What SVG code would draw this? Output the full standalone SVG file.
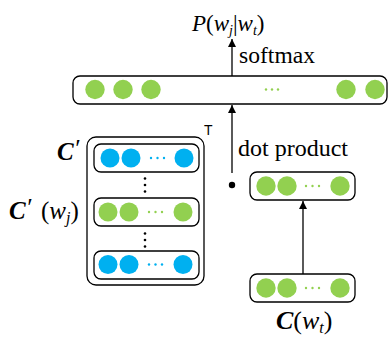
<svg xmlns="http://www.w3.org/2000/svg" width="388" height="339" viewBox="0 0 388 339">
<defs>
<style>
.box{fill:#fff;stroke:#000;stroke-width:1.3}
.g{fill:#92D050}
.b{fill:#00B0F0}
.ln{stroke:#000;stroke-width:1.3;fill:none}
.t{fill:#000}
.bi{font-weight:bold;font-style:italic}
.it{font-style:italic}
</style>
<marker id="ah" viewBox="0 0 10 10" refX="10" refY="5" markerWidth="8" markerHeight="8" markerUnits="userSpaceOnUse" orient="auto">
<path d="M0,0 L10,5 L0,10 Z" fill="#000"/>
</marker>
</defs>
<g id="connectors">
<line class="ln" x1="232" y1="77" x2="232" y2="39" marker-end="url(#ah)"/>
<line class="ln" x1="232" y1="173" x2="232" y2="105" marker-end="url(#ah)"/>
<circle cx="232" cy="185" r="3.2" fill="#000"/>
<line class="ln" x1="303" y1="274" x2="303" y2="201" marker-end="url(#ah)"/>
</g>
<g id="output">
<rect class="box" x="73" y="76" width="314" height="28" rx="7"/>
<circle class="g" cx="95" cy="89.5" r="9.7"/>
<circle class="g" cx="123" cy="89.5" r="9.7"/>
<circle class="g" cx="151" cy="89.5" r="9.7"/>
<circle class="g" cx="346" cy="89.5" r="9.7"/>
<circle class="g" cx="375" cy="89.5" r="9.7"/>
<circle class="g" cx="266" cy="89.5" r="1.2"/>
<circle class="g" cx="272" cy="89.5" r="1.2"/>
<circle class="g" cx="278" cy="89.5" r="1.2"/>
</g>
<g id="prob">
<text class="t" font-family="'Liberation Serif','Times New Roman','DejaVu Serif',serif" x="192" y="31" font-size="23"><tspan class="it">P</tspan>(<tspan class="it">w</tspan><tspan class="it" font-size="14" dy="4">j</tspan><tspan dy="-4">|</tspan><tspan class="it">w</tspan><tspan class="it" font-size="14" dy="4">t</tspan><tspan dy="-4">)</tspan></text>
</g>
<g id="softmax-label"><text class="t" font-family="'Liberation Serif','Times New Roman','DejaVu Serif',serif" x="239" y="63" font-size="23" textLength="76" lengthAdjust="spacingAndGlyphs">softmax</text></g>
<g id="dot-label"><text class="t" font-family="'Liberation Serif','Times New Roman','DejaVu Serif',serif" x="238" y="156" font-size="23" textLength="110" lengthAdjust="spacingAndGlyphs">dot product</text></g>
<g id="matrix">
<rect class="box" x="87" y="137" width="117" height="148" rx="9"/>
<text x="204" y="135" font-family="'Liberation Sans',sans-serif" font-size="14" fill="#000">T</text>
<rect class="box" x="94" y="144" width="105" height="28" rx="7"/>
<circle class="b" cx="110" cy="158" r="9.5"/>
<circle class="b" cx="131" cy="158" r="9.5"/>
<circle class="b" cx="151" cy="158" r="1.2"/>
<circle class="b" cx="157.5" cy="158" r="1.2"/>
<circle class="b" cx="164" cy="158" r="1.2"/>
<circle class="b" cx="184" cy="158" r="9.5"/>
<circle cx="145" cy="178.5" r="1.3"/>
<circle cx="145" cy="185" r="1.3"/>
<circle cx="145" cy="191.5" r="1.3"/>
<rect class="box" x="94" y="198" width="105" height="28" rx="7"/>
<circle class="g" cx="108" cy="212" r="9.5"/>
<circle class="g" cx="129" cy="212" r="9.5"/>
<circle class="g" cx="149" cy="212" r="1.2"/>
<circle class="g" cx="155.5" cy="212" r="1.2"/>
<circle class="g" cx="162" cy="212" r="1.2"/>
<circle class="g" cx="183" cy="212" r="9.5"/>
<circle cx="145" cy="233.5" r="1.3"/>
<circle cx="145" cy="240" r="1.3"/>
<circle cx="145" cy="246.5" r="1.3"/>
<rect class="box" x="94" y="251" width="105" height="28" rx="7"/>
<circle class="b" cx="108" cy="264.5" r="9.5"/>
<circle class="b" cx="129" cy="264.5" r="9.5"/>
<circle class="b" cx="149" cy="264.5" r="1.2"/>
<circle class="b" cx="155.5" cy="264.5" r="1.2"/>
<circle class="b" cx="162" cy="264.5" r="1.2"/>
<circle class="b" cx="183" cy="264.5" r="9.5"/>
</g>
<g id="matrix-label"><text class="t" font-family="'Liberation Serif','Times New Roman','DejaVu Serif',serif" x="57" y="160" font-size="25"><tspan class="bi">C</tspan><tspan class="it" dy="-3">′</tspan></text></g>
<g id="row-label"><text class="t" font-family="'Liberation Serif','Times New Roman','DejaVu Serif',serif" x="9" y="219" font-size="25"><tspan class="bi">C</tspan><tspan class="it" dy="-3">′</tspan><tspan x="41" dy="3">(</tspan><tspan class="it">w</tspan><tspan class="it" font-size="16" dy="4">j</tspan><tspan dy="-4">)</tspan></text></g>
<g id="context">
<rect class="box" x="250" y="172" width="105" height="28" rx="7"/>
<circle class="g" cx="266" cy="186" r="9.7"/>
<circle class="g" cx="287" cy="186" r="9.7"/>
<circle class="g" cx="306" cy="186" r="1.2"/>
<circle class="g" cx="312.5" cy="186" r="1.2"/>
<circle class="g" cx="319" cy="186" r="1.2"/>
<circle class="g" cx="340" cy="186" r="9.7"/>
</g>
<g id="target">
<rect class="box" x="250" y="274" width="105" height="28" rx="7"/>
<circle class="g" cx="266" cy="288" r="9.7"/>
<circle class="g" cx="287" cy="288" r="9.7"/>
<circle class="g" cx="306" cy="288" r="1.2"/>
<circle class="g" cx="312.5" cy="288" r="1.2"/>
<circle class="g" cx="319" cy="288" r="1.2"/>
<circle class="g" cx="340" cy="288" r="9.7"/>
</g>
<g id="target-label"><text class="t" font-family="'Liberation Serif','Times New Roman','DejaVu Serif',serif" x="276" y="329" font-size="26"><tspan class="bi">C</tspan>(<tspan class="it">w</tspan><tspan class="it" font-size="16" dy="4">t</tspan><tspan dy="-4">)</tspan></text></g>
</svg>
